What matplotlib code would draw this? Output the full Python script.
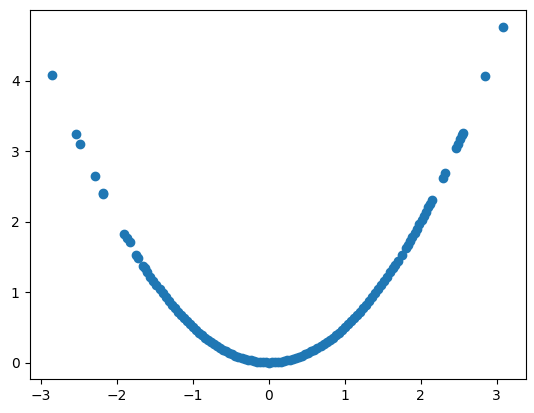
import matplotlib
matplotlib.use("Agg")
from matplotlib import pyplot as plt

x_left_tail = [-2.855, -2.539, -2.487, -2.289, -2.190, -2.178, -1.908, -1.873,
               -1.833, -1.754, -1.719, -1.658, -1.636]
y_left_tail = [4.085, 3.245, 3.105, 2.640, 2.398, 2.385, 1.818, 1.765,
               1.710, 1.525, 1.485, 1.372, 1.338]

x_band = [-1.60, -1.56, -1.52, -1.48, -1.44, -1.40, -1.36, -1.32, -1.28, -1.24,
          -1.20, -1.16, -1.12, -1.08, -1.04, -1.00, -0.96, -0.92, -0.88, -0.84,
          -0.80, -0.76, -0.72, -0.68, -0.64, -0.60, -0.56, -0.52, -0.48, -0.44,
          -0.40, -0.36, -0.32, -0.28, -0.24, -0.20, -0.16, -0.12, -0.08, -0.04,
          0.00, 0.04, 0.08, 0.12, 0.16, 0.20, 0.24, 0.28, 0.32, 0.36,
          0.40, 0.44, 0.48, 0.52, 0.56, 0.60, 0.64, 0.68, 0.72, 0.76,
          0.80, 0.84, 0.88, 0.92, 0.96, 1.00, 1.04, 1.08, 1.12, 1.16,
          1.20, 1.24, 1.28, 1.32, 1.36, 1.40, 1.44, 1.48, 1.52, 1.56, 1.60]
y_band = [1.280, 1.217, 1.155, 1.095, 1.037, 0.980, 0.925, 0.871, 0.819, 0.769,
          0.720, 0.673, 0.627, 0.583, 0.541, 0.500, 0.461, 0.423, 0.387, 0.353,
          0.320, 0.289, 0.259, 0.231, 0.205, 0.180, 0.157, 0.135, 0.115, 0.097,
          0.080, 0.065, 0.051, 0.039, 0.029, 0.020, 0.013, 0.007, 0.003, 0.001,
          0.000, 0.001, 0.003, 0.007, 0.013, 0.020, 0.029, 0.039, 0.051, 0.065,
          0.080, 0.097, 0.115, 0.135, 0.157, 0.180, 0.205, 0.231, 0.259, 0.289,
          0.320, 0.353, 0.387, 0.423, 0.461, 0.500, 0.541, 0.583, 0.627, 0.673,
          0.720, 0.769, 0.819, 0.871, 0.925, 0.980, 1.037, 1.095, 1.155, 1.217, 1.280]

x_right_tail = [1.64, 1.66, 1.70, 1.75, 1.80, 1.83, 1.86, 1.89, 1.92, 1.95,
                1.98, 2.01, 2.04, 2.07, 2.10, 2.12, 2.15, 2.29, 2.32, 2.47,
                2.49, 2.52, 2.54, 2.56, 2.851, 3.085]
y_right_tail = [1.345, 1.378, 1.445, 1.531, 1.620, 1.674, 1.730, 1.786, 1.843, 1.901,
                1.960, 2.020, 2.081, 2.142, 2.205, 2.247, 2.311, 2.622, 2.691, 3.050,
                3.100, 3.175, 3.226, 3.257, 4.064, 4.759]

x = x_left_tail + x_band + x_right_tail
y = y_left_tail + y_band + y_right_tail

W, H = 534, 413
fig = plt.figure(figsize=(W / 100, H / 100), dpi=100)
ax = fig.add_axes([29.5 / W, (H - 379.3) / H, 496.2 / W, 369.0 / H])
ax.scatter(x, y)

fig.savefig("out.png", dpi=100)
